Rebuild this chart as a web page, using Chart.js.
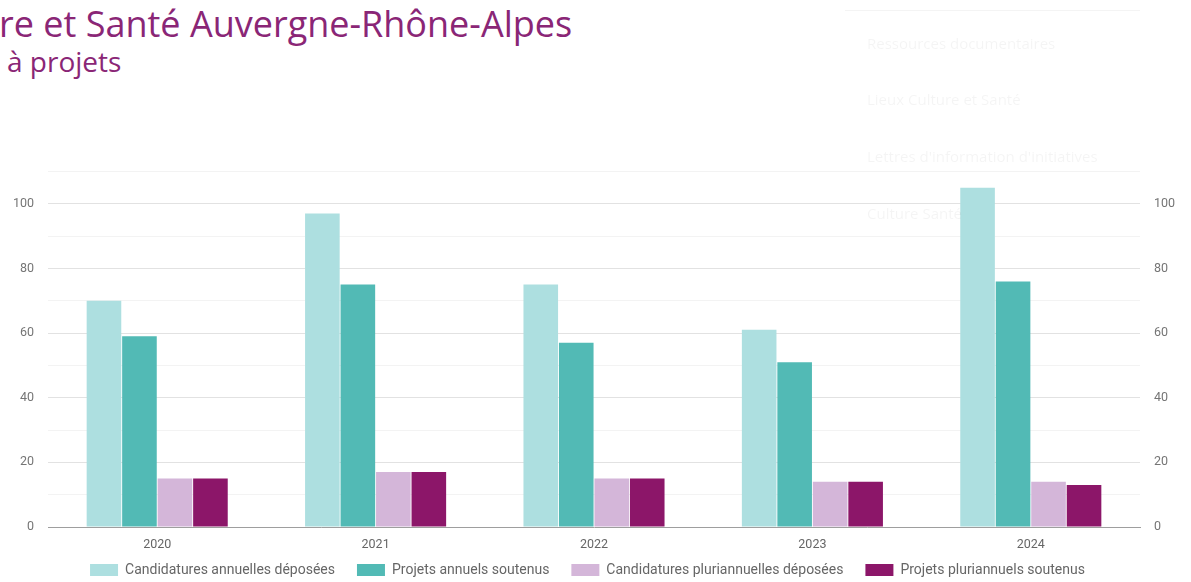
<!DOCTYPE html>
<html lang="fr">
<head>
<meta charset="utf-8">
<script src="https://cdn.jsdelivr.net/npm/chart.js@4.4.1/dist/chart.umd.min.js"></script>
<style>
  html, body { margin: 0; padding: 0; background: #fff; overflow: hidden; }
  body { width: 1191px; height: 582px; position: relative; font-family: "Open Sans", sans-serif; }
  .title { position: absolute; left: -1px; top: 6px; font-size: 36px; line-height: 1; color: #8a2676; white-space: nowrap; }
  .subtitle { position: absolute; left: 7px; top: 47px; font-size: 28px; line-height: 1; color: #8a2676; white-space: nowrap; }
  .ghost { position: absolute; left: 845px; top: 10px; width: 295px; height: 230px; border-top: 1px solid #f4f4f4; }
  .ghost div { position: absolute; left: 22px; font-size: 15px; color: rgba(0,0,0,0.045); white-space: nowrap; }
  #wrap { position: absolute; left: 0; top: 150px; width: 1191px; height: 450px; }
</style>
</head>
<body>
<div class="title">re et Santé Auvergne-Rhône-Alpes</div>
<div class="subtitle">à projets</div>
<div id="wrap"><canvas id="chart"></canvas></div>
<div class="ghost">
  <div style="top:22px">Ressources documentaires</div>
  <div style="top:78px">Lieux Culture et Santé</div>
  <div style="top:135px">Lettres d'information d'initiatives</div>
  <div style="top:192px">Culture Santé</div>
</div>
<script>
// Data
const years = ['2020', '2021', '2022', '2023', '2024'];
const candAnnuelles = [70, 97, 75, 61, 105];
const projAnnuels = [59, 75, 57, 51, 76];
const candPluri = [15, 17, 15, 14, 14];
const projPluri = [15, 17, 15, 14, 13];
const seriesNames = [
    'Candidatures annuelles déposées',
    'Projets annuels soutenus',
    'Candidatures pluriannuelles déposées',
    'Projets pluriannuels soutenus'
];
const seriesColors = ['#addfe0', '#52bab5', '#d4b6d9', '#8c1669'];
const yTicks = [0, 20, 40, 60, 80, 100];

const tickFont = { family: 'Roboto', size: 12.5 };

function makeDataset(i, data) {
    return {
        label: seriesNames[i],
        data: data,
        backgroundColor: seriesColors[i],
        borderWidth: 0,
        barPercentage: 0.975,
        categoryPercentage: 0.65
    };
}

function gridColor(ctx) {
    const v = ctx.tick ? ctx.tick.value : 0;
    if (v === 0) return 'rgba(0,0,0,0)';
    return v % 20 === 0 ? '#e2e2e2' : '#f3f3f3';
}

function yLabel(value) {
    return yTicks.includes(value) ? value : '';
}

// legend padding is shared between items and rows, so pull the row up a bit
// (and a little to the left, like the original)
const legendNudge = {
    id: 'legendNudge',
    afterLayout(chart) {
        const lg = chart.legend;
        lg.top -= 13;
        lg.bottom -= 13;
        lg.left -= 8;
        lg.right -= 8;
        lg.adjustHitBoxes && lg.adjustHitBoxes();
    }
};

const chart = new Chart(document.getElementById('chart').getContext('2d'), {
    type: 'bar',
    data: {
        labels: years,
        datasets: [
            makeDataset(0, candAnnuelles),
            makeDataset(1, projAnnuels),
            makeDataset(2, candPluri),
            makeDataset(3, projPluri)
        ]
    },
    options: {
        responsive: true,
        maintainAspectRatio: false,
        animation: false,
        layout: { padding: { top: 14, bottom: 0 } },
        plugins: {
            tooltip: { enabled: false },
            legend: {
                position: 'bottom',
                labels: {
                    boxWidth: 28,
                    boxHeight: 12,
                    padding: 22,
                    color: '#666',
                    font: { family: 'Roboto', size: 14 }
                }
            }
        },
        scales: {
            x: {
                grid: { display: false },
                border: { display: true, color: '#9e9e9e', width: 1 },
                ticks: { color: '#666', font: tickFont, padding: 2 }
            },
            y: {
                position: 'left',
                min: 0,
                max: 110,
                afterFit: (s) => { s.width = 48; },
                grid: { color: gridColor, drawTicks: false },
                border: { display: false },
                ticks: { stepSize: 10, color: '#757575', font: tickFont, padding: 14, callback: yLabel }
            },
            y2: {
                position: 'right',
                min: 0,
                max: 110,
                afterFit: (s) => { s.width = 51; },
                grid: { display: false },
                border: { display: false },
                ticks: { stepSize: 10, color: '#757575', font: tickFont, padding: 6, callback: yLabel }
            }
        }
    },
    plugins: [legendNudge]
});
</script>
</body>
</html>
